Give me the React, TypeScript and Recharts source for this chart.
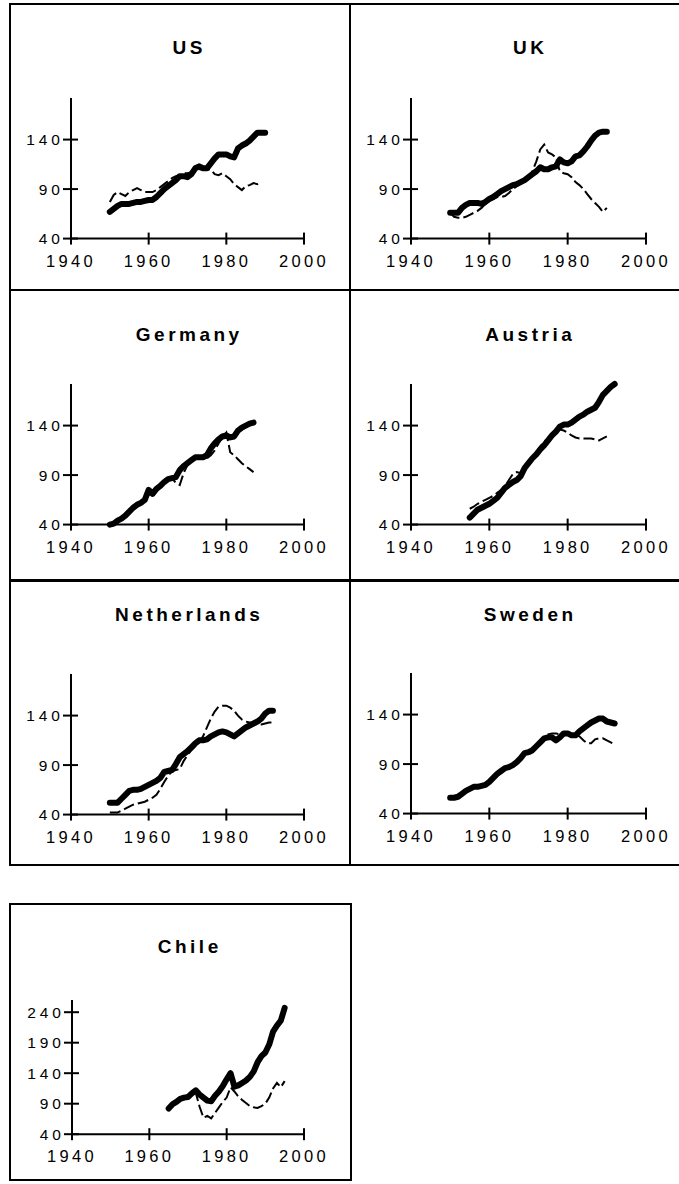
import React from 'react';
import { LineChart, Line, XAxis, YAxis } from 'recharts';

// years on the x axis
const YEARS = [
  1950, 1951, 1952, 1953, 1954, 1955, 1956, 1957, 1958, 1959,
  1960, 1961, 1962, 1963, 1964, 1965, 1966, 1967, 1968, 1969,
  1970, 1971, 1972, 1973, 1974, 1975, 1976, 1977, 1978, 1979,
  1980, 1981, 1982, 1983, 1984, 1985, 1986, 1987, 1988, 1989,
  1990, 1991, 1992,
];
const CHILE_YEARS = [
  1965, 1966, 1967, 1968, 1969, 1970, 1971, 1972, 1973, 1974,
  1975, 1976, 1977, 1978, 1979, 1980, 1981, 1982, 1983, 1984,
  1985, 1986, 1987, 1988, 1989, 1990, 1991, 1992, 1993, 1994,
  1995,
];
const X_TICKS = [1940, 1960, 1980, 2000];
const Y_TICKS = [40, 90, 140];
const CHILE_Y_TICKS = [40, 90, 140, 190, 240];

// thick line = actual, thin dashed line = other series
const usActual = [
  67, 70, 73, 75, 75, 75, 76, 77, 77, 78,
  79, 79, 82, 86, 90, 93, 96, 99, 103, 103,
  102, 105, 111, 113, 111, 111, 116, 121, 125, 125,
  125, 123, 122, 131, 134, 136, 139, 143, 147, 147,
  147, null, null,
];
const usOther = [
  77, 84, 87, 85, 83, 87, 89, 91, 89, 87,
  87, 87, 89, 92, 95, 98, 101, 103, 104, 106,
  106, 107, 108, 110, 110, 110, 110, 105, 104, 106,
  103, 100, 95, 92, 89, 93, 94, 96, 95, 97,
  null, null, null,
];

const ukActual = [
  66, 66, 66, 71, 74, 76, 76, 76, 75, 77,
  80, 82, 85, 88, 90, 92, 94, 95, 97, 99,
  102, 105, 108, 112, 110, 110, 112, 113, 120, 117,
  116, 118, 123, 124, 128, 133, 139, 144, 147, 148,
  148, null, null,
];
const ukOther = [
  66, 62, 61, 61, 62, 64, 66, 68, 71, 75,
  78, 80, 82, 82, 83, 86, 90, 93, 96, 99,
  102, 108, 118, 130, 135, 127, 125, 122, 108, 106,
  105, 102, 97, 94, 90, 85, 80, 76, 72, 67,
  71, null, null,
];

const deActual = [
  40, 41, 44, 46, 49, 53, 57, 60, 62, 65,
  75, 71, 76, 79, 83, 86, 87, 88, 95, 99,
  102, 105, 108, 108, 108, 110, 117, 122, 126, 129,
  130, 128, 129, 135, 138, 140, 142, 143, null, null,
  null, null, null,
];
const deOther = [
  40, 40, 43, 46, 49, 53, 57, 60, 62, 65,
  72, 72, 75, 79, 83, 86, 87, 82, 80, 92,
  100, 104, 107, 108, 108, 107, 110, 115, 122, 128,
  133, 113, 110, 106, 102, 99, 96, 93, null, null,
  null, null, null,
];

const atActual = [
  null, null, null, null, null, 47, 51, 55, 57, 59,
  61, 64, 67, 72, 77, 80, 83, 85, 89, 97,
  102, 107, 111, 116, 120, 125, 130, 134, 139, 141,
  141, 143, 146, 149, 151, 154, 156, 158, 164, 171,
  175, 179, 182,
];
const atOther = [
  null, null, null, null, null, 56, 58, 61, 63, 65,
  67, 69, 72, 75, 79, 85, 91, 93, 92, 98,
  103, 108, 113, 119, 124, 127, 130, 134, 136, 135,
  133, 130, 128, 127, 127, 127, 127, 126, 125, 127,
  129, null, null,
];

const nlActual = [
  52, 52, 52, 56, 60, 64, 65, 65, 66, 68,
  70, 72, 74, 77, 83, 84, 85, 91, 98, 101,
  104, 108, 112, 115, 115, 116, 119, 121, 123, 124,
  123, 121, 119, 122, 125, 128, 130, 132, 134, 137,
  142, 145, 145,
];
const nlOther = [
  42, 42, 42, 44, 46, 48, 50, 51, 52, 53,
  55, 57, 60, 66, 73, 79, 84, 85, 86, 94,
  100, 105, 109, 113, 119, 128, 137, 144, 149, 150,
  150, 148, 145, 140, 136, 134, 133, 132, 131, 131,
  132, 133, 133,
];

const seActual = [
  56, 56, 57, 60, 63, 65, 67, 67, 68, 69,
  72, 76, 80, 83, 86, 87, 89, 92, 96, 101,
  102, 104, 108, 112, 116, 117, 117, 114, 117, 121,
  121, 119, 119, 123, 126, 129, 132, 134, 136, 136,
  133, 132, 131,
];
const seOther = [
  56, 56, 57, 60, 63, 65, 67, 67, 68, 70,
  72, 76, 80, 83, 86, 87, 89, 92, 96, 100,
  101, 103, 107, 113, 118, 120, 121, 121, 120, 120,
  121, 120, 119, 118, 114, 111, 111, 115, 116, 116,
  114, 112, 110,
];

const clActual = [
  82, 89, 93, 98, 100, 101, 107, 112, 105, 100,
  95, 94, 103, 110, 119, 130, 140, 118, 120, 124,
  128, 134, 143, 158, 168, 174, 187, 208, 218, 226,
  247,
];
const clOther = [
  82, 89, 93, 98, 100, 101, 107, 108, 85, 67,
  70, 66, 75, 84, 93, 100, 117, 110, 102, 96,
  91, 86, 84, 83, 86, 90, 100, 115, 124, 117,
  127,
];

const FONT = '"Liberation Sans", Arial, Helvetica, sans-serif';

const YTick = (props: any) => {
  const { x, y, payload } = props;
  return (
    <g>
      <line x1={x - 8} x2={x + 7} y1={y} y2={y} stroke="#000" strokeWidth={2} />
      <text x={x - 7} y={y} dy="0.36em" textAnchor="end" fontSize={15.5} fontFamily={FONT}
        letterSpacing={4} fill="#000">{payload.value}</text>
    </g>
  );
};

const XTick = (props: any) => {
  const { x, y, payload } = props;
  return (
    <g>
      <line x1={x} x2={x} y1={y - 6} y2={y + 6} stroke="#000" strokeWidth={2} />
      <text x={x} y={y + 28} textAnchor="middle" fontSize={16.5} fontFamily={FONT}
        letterSpacing={3.3} fill="#000">{payload.value}</text>
    </g>
  );
};

type Geo = { axisX: number; x2000: number; axisY: number; yMax: number; ppu: number; titleY: number };

const Panel = ({ title, years, actual, other, g, yTicks }:
  { title: string; years: number[]; actual: (number | null)[]; other: (number | null)[]; g: Geo; yTicks: number[] }) => {
  const plotW = g.x2000 - g.axisX;
  const plotH = (g.yMax - 40) * g.ppu;
  const padL = 65, padT = 20, padR = 40, padB = 50;
  const data = years.map((year, i) => ({ year, actual: actual[i], other: other[i] }));
  return (
    <>
      <div style={{
        position: 'absolute', left: (g.axisX + g.x2000) / 2 - 100, top: g.titleY - 12, width: 200,
        textAlign: 'center', fontFamily: FONT, fontWeight: 'bold', fontSize: 19, letterSpacing: 3.5,
        lineHeight: '24px', paddingLeft: 3.5, boxSizing: 'border-box',
      }}>{title}</div>
      <div style={{ position: 'absolute', left: g.axisX - padL, top: g.axisY - plotH - padT }}>
        <LineChart width={padL + plotW + padR} height={padT + plotH + padB} data={data}
          margin={{ left: padL - 60, top: padT, right: padR, bottom: padB - 30 }}>
          <XAxis dataKey="year" type="number" domain={[1940, 2000]} ticks={X_TICKS} interval={0}
            height={30} axisLine={{ stroke: '#000', strokeWidth: 2 }} tickLine={false}
            tickSize={0} tickMargin={0} tick={<XTick />} />
          <YAxis type="number" domain={[40, g.yMax]} ticks={yTicks} interval={0} width={60}
            axisLine={{ stroke: '#000', strokeWidth: 2 }} tickLine={false}
            tickSize={0} tickMargin={0} tick={<YTick />} />
          <Line type="linear" dataKey="other" stroke="#000" strokeWidth={2} strokeDasharray="11 4"
            dot={false} isAnimationActive={false} />
          <Line type="linear" dataKey="actual" stroke="#000" strokeWidth={6} strokeLinejoin="round"
            strokeLinecap="round" dot={false} isAnimationActive={false} />
        </LineChart>
      </div>
    </>
  );
};

const rule = (left: number, top: number, width: number, height: number) => (
  <div style={{ position: 'absolute', left, top, width, height, background: '#000' }} />
);

export default function App() {
  const L = { axisX: 71, x2000: 304 };
  const R = { axisX: 411, x2000: 646 };
  return (
    <div style={{ position: 'absolute', left: 0, top: 0, width: 679, height: 1184, background: '#fff', overflow: 'hidden' }}>
      {rule(9, 3, 670, 2)}
      {rule(9, 3, 2, 863)}
      {rule(349, 3, 2, 863)}
      {rule(9, 289, 670, 2)}
      {rule(9, 579, 670, 3)}
      {rule(9, 864, 670, 2)}
      <div style={{ position: 'absolute', left: 9, top: 903, width: 343, height: 278, border: '2px solid #000', boxSizing: 'border-box' }} />

      <Panel title="US" years={YEARS} actual={usActual} other={usOther} yTicks={Y_TICKS}
        g={{ ...L, axisY: 239, yMax: 182, ppu: 0.99, titleY: 48 }} />
      <Panel title="UK" years={YEARS} actual={ukActual} other={ukOther} yTicks={Y_TICKS}
        g={{ ...R, axisY: 239, yMax: 182, ppu: 0.99, titleY: 48 }} />
      <Panel title="Germany" years={YEARS} actual={deActual} other={deOther} yTicks={Y_TICKS}
        g={{ ...L, axisY: 525, yMax: 182, ppu: 0.99, titleY: 335 }} />
      <Panel title="Austria" years={YEARS} actual={atActual} other={atOther} yTicks={Y_TICKS}
        g={{ ...R, axisY: 525, yMax: 182, ppu: 0.99, titleY: 335 }} />
      <Panel title="Netherlands" years={YEARS} actual={nlActual} other={nlOther} yTicks={Y_TICKS}
        g={{ ...L, axisY: 815, yMax: 182, ppu: 0.99, titleY: 615 }} />
      <Panel title="Sweden" years={YEARS} actual={seActual} other={seOther} yTicks={Y_TICKS}
        g={{ ...R, axisY: 814, yMax: 182, ppu: 0.99, titleY: 615 }} />
      <Panel title="Chile" years={CHILE_YEARS} actual={clActual} other={clOther} yTicks={CHILE_Y_TICKS}
        g={{ axisX: 72, x2000: 304, axisY: 1134, yMax: 260, ppu: 0.61, titleY: 947 }} />
    </div>
  );
}
